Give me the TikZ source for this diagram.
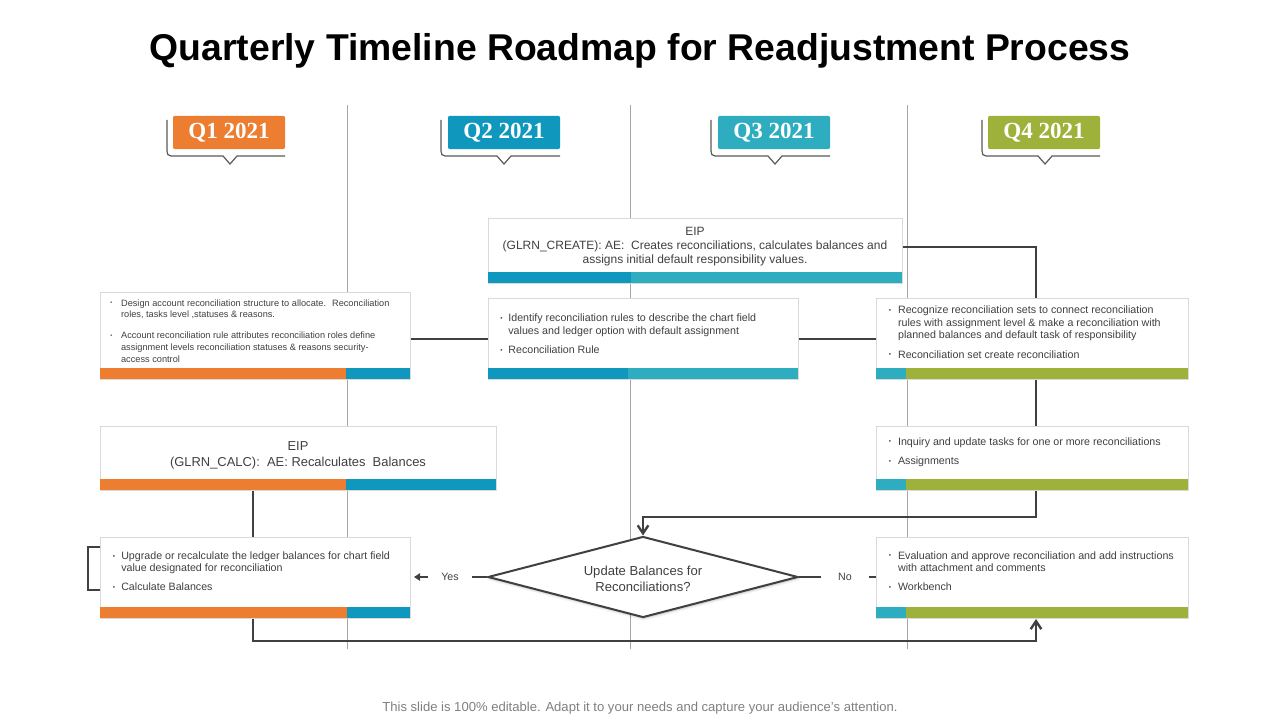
\documentclass[tikz,border=0pt]{standalone}
\usepackage{fontspec}
\setmainfont{Liberation Sans}
\newfontfamily\quarterfont{Liberation Serif}
\usetikzlibrary{shapes.geometric}
\usetikzlibrary{shadows.blur}
\usetikzlibrary{arrows.meta}
\usepackage{xcolor}
\newcommand{\bdot}{\raisebox{0.12em}{\scalebox{0.6}{\textbullet}}}

\begin{document}
\begin{tikzpicture}[x=0.75pt,y=0.75pt,yscale=-1,xscale=1,
  rail/.style={draw={rgb, 255:red, 166; green, 166; blue, 166 }, line width=0.75},
  link/.style={draw={rgb, 255:red, 64; green, 64; blue, 64 }, line width=1.8},
  card/.style={draw={rgb, 255:red, 217; green, 217; blue, 217 }, fill=white, line width=0.75, inner sep=0, anchor=north west},
  barorange/.style={fill={rgb, 255:red, 237; green, 125; blue, 49 }},
  barblue/.style={fill={rgb, 255:red, 15; green, 151; blue, 190 }},
  barteal/.style={fill={rgb, 255:red, 46; green, 173; blue, 193 }},
  bargreen/.style={fill={rgb, 255:red, 157; green, 177; blue, 59 }},
  qtab/.style={rounded corners=1.5, text=white, inner sep=0, minimum width=84pt, minimum height=25pt, font=\quarterfont\bfseries\fontsize{17.3}{17.3}\selectfont},
  qbrace/.style={draw={rgb, 255:red, 89; green, 89; blue, 89 }, line width=0.9},
  txt/.style={inner sep=0, text={rgb, 255:red, 64; green, 64; blue, 64 }},
  decision/.style={diamond, draw={rgb, 255:red, 64; green, 64; blue, 64 }, line width=1.5, fill=white, aspect=3.83, minimum width=232.5pt, minimum height=60.75pt, inner sep=0, blur shadow={shadow xshift=0.6pt, shadow yshift=-0.9pt, shadow blur radius=2pt, shadow opacity=30}},
  flowlbl/.style={txt, font=\fontsize{8}{9.6}\selectfont},
]
\useasboundingbox (0,0) rectangle (1280,720);

% Text Node
\node[anchor=base, inner sep=0, font=\bfseries\fontsize{28}{30}\selectfont] (titleTxt) at (640,61) {Quarterly Timeline Roadmap for Readjustment Process};

%Straight Lines (quarter rails)
\draw[rail] (347,105) -- (347,649);
\draw[rail] (630,105) -- (630,649);
\draw[rail] (907,105) -- (907,649);

%Shape: Quarter tabs
\draw[qbrace] (167,120) -- (167,151) .. controls (167,154) and (168,156) .. (171,156) -- (223,156) -- (230,164) -- (237,156) -- (285,156);
\node[qtab, fill={rgb, 255:red, 237; green, 125; blue, 49 }] (q1Tab) at (229,132.5) {Q1 2021};
\draw[qbrace] (441,120) -- (441,151) .. controls (441,154) and (442,156) .. (445,156) -- (497,156) -- (504,164) -- (511,156) -- (560,156);
\node[qtab, fill={rgb, 255:red, 15; green, 151; blue, 190 }] (q2Tab) at (504,132.5) {Q2 2021};
\draw[qbrace] (711,120) -- (711,151) .. controls (711,154) and (712,156) .. (715,156) -- (768,156) -- (775,164) -- (782,156) -- (830,156);
\node[qtab, fill={rgb, 255:red, 46; green, 173; blue, 193 }] (q3Tab) at (774,132.5) {Q3 2021};
\draw[qbrace] (982,120) -- (982,151) .. controls (982,154) and (983,156) .. (986,156) -- (1038,156) -- (1045,164) -- (1052,156) -- (1100,156);
\node[qtab, fill={rgb, 255:red, 157; green, 177; blue, 59 }] (q4Tab) at (1044,132.5) {Q4 2021};

%Shape: Cards
\node[card, minimum width=232.5pt, minimum height=65.25pt] (designBox) at (100,292) {};
\node[card, minimum width=297pt, minimum height=48pt] (calcBox) at (100,426) {};
\node[card, minimum width=310.5pt, minimum height=48.75pt] (createBox) at (488,218) {};
\node[card, minimum width=232.5pt, minimum height=60.75pt] (ruleBox) at (488,298) {};
\node[card, minimum width=234pt, minimum height=60.75pt] (setBox) at (876,298) {};
\node[card, minimum width=234pt, minimum height=48pt] (inquiryBox) at (876,426) {};
\node[card, minimum width=232.5pt, minimum height=60.75pt] (upgradeBox) at (100,537) {};
\node[card, minimum width=234pt, minimum height=60.75pt] (benchBox) at (876,537) {};

%Shape: Card bars
\fill[barorange] (100,368) rectangle (346,379);
\fill[barblue] (346,368) rectangle (410,379);
\fill[barorange] (100,479) rectangle (346,490);
\fill[barblue] (346,479) rectangle (496,490);
\fill[barblue] (488,272) rectangle (631,283);
\fill[barteal] (631,272) rectangle (902,283);
\fill[barblue] (488,368) rectangle (628,379);
\fill[barteal] (628,368) rectangle (798,379);
\fill[barteal] (876,368) rectangle (906,379);
\fill[bargreen] (906,368) rectangle (1188,379);
\fill[barteal] (876,479) rectangle (906,490);
\fill[bargreen] (906,479) rectangle (1188,490);
\fill[barorange] (100,607) rectangle (347,618);
\fill[barblue] (347,607) rectangle (410,618);
\fill[barteal] (876,607) rectangle (906,618);
\fill[bargreen] (906,607) rectangle (1188,618);

%Shape: Diamond
\node[decision] (decide) at (643,577) {};

%Straight Lines (connectors)
\coordinate (creJoin) at (1036,247);
\coordinate (feedTurn) at (1036,517);
\coordinate (calcDrop) at (253,641);
\draw[link] (designBox.east |- ruleBox.west) -- (ruleBox.west);
\draw[link] (ruleBox.east) -- (setBox.west);
\draw[link] (createBox.east |- creJoin) -- (creJoin) -- (creJoin |- setBox.north);
\draw[link] (creJoin |- setBox.south) -- (creJoin |- inquiryBox.north);
\draw[link, -{Straight Barb[length=6pt, width=8pt]}] (creJoin |- inquiryBox.south) -- (feedTurn) -| (decide.north);
\draw[link] (calcBox.south -| calcDrop) -- (upgradeBox.north -| calcDrop);
\draw[link, -{Straight Barb[length=6pt, width=8pt]}] (upgradeBox.south -| calcDrop) -- (calcDrop) -| (benchBox.south -| creJoin);
\draw[link] ([yshift=7.5pt]upgradeBox.north west) -- ++(-12,0) |- ([yshift=-21.75pt]upgradeBox.south west);

% Text Node
\node[flowlbl, inner xsep=10.1pt] (yesLbl) at (450,577) {Yes};
\node[flowlbl, inner xsep=12.75pt] (noLbl) at (845,577) {No};
\draw[link] (decide.west) -- (yesLbl.east);
\draw[link, line width=1.5, -{Triangle[length=4.5pt, width=5.5pt]}, shorten >=2.25pt] (yesLbl.west) -- (yesLbl.west -| upgradeBox.east);
\draw[link] (decide.east) -- (noLbl.west);
\draw[link] (noLbl.east) -- (noLbl.east -| benchBox.west);

% Text Node
\node[txt, anchor=base, font=\fontsize{9.8}{12.5}\selectfont] (decideTxt) at (643,575) {\begin{tabular}[t]{@{}c@{}}Update Balances for\\Reconciliations?\end{tabular}};
% Text Node
\node[txt, anchor=base, font=\fontsize{9}{10.5}\selectfont] (createTxt) at (695,235) {\begin{tabular}[t]{@{}c@{}}EIP\\(GLRN\_CREATE): AE:~ Creates reconciliations, calculates balances and\\assigns initial default responsibility values.\end{tabular}};
% Text Node
\node[txt, anchor=base, font=\fontsize{9.7}{12}\selectfont] (calcTxt) at (298,450.7) {\begin{tabular}[t]{@{}c@{}}EIP\\(GLRN\_CALC):~ AE: Recalculates~ Balances\end{tabular}};
% Text Node
\node[txt, anchor=base west, font=\fontsize{6.9}{8.85}\selectfont] (designTxt) at (110,306) {\begin{tabular}[t]{@{}l@{\hspace{6.7pt}}l@{}}\bdot & Design account reconciliation structure to allocate.~ Reconciliation\\ & roles, tasks level ,statuses \& reasons.\\[6.9pt]\bdot & Account reconciliation rule attributes reconciliation roles define\\ & assignment levels reconciliation statuses \& reasons security-\\ & access control\end{tabular}};
% Text Node
\node[txt, anchor=base west, font=\fontsize{8}{9.5}\selectfont] (ruleTxt) at (500,321.7) {\begin{tabular}[t]{@{}l@{\hspace{4.4pt}}l@{}}\bdot & Identify reconciliation rules to describe the chart field\\ & values and ledger option with default assignment\\[4.9pt]\bdot & Reconciliation Rule\end{tabular}};
% Text Node
\node[txt, anchor=base west, font=\fontsize{8}{9.6}\selectfont] (setTxt) at (888.5,313.3) {\begin{tabular}[t]{@{}l@{\hspace{5.3pt}}l@{}}\bdot & Recognize reconciliation sets to connect reconciliation\\ & rules with assignment level \& make a reconciliation with\\ & planned balances and default task of responsibility\\[4.9pt]\bdot & Reconciliation set create reconciliation\end{tabular}};
% Text Node
\node[txt, anchor=base west, font=\fontsize{8}{9.6}\selectfont] (inquiryTxt) at (888.5,445) {\begin{tabular}[t]{@{}l@{\hspace{5.3pt}}l@{}}\bdot & Inquiry and update tasks for one or more reconciliations\\[4.9pt]\bdot & Assignments\end{tabular}};
% Text Node
\node[txt, anchor=base west, font=\fontsize{8}{9.4}\selectfont] (upgradeTxt) at (112.5,559.3) {\begin{tabular}[t]{@{}l@{\hspace{4.7pt}}l@{}}\bdot & Upgrade or recalculate the ledger balances for chart field\\ & value designated for reconciliation\\[4.9pt]\bdot & Calculate Balances\end{tabular}};
% Text Node
\node[txt, anchor=base west, font=\fontsize{8}{9.4}\selectfont] (benchTxt) at (888.5,559) {\begin{tabular}[t]{@{}l@{\hspace{5.3pt}}l@{}}\bdot & Evaluation and approve reconciliation and add instructions\\ & with attachment and comments\\[4.9pt]\bdot & Workbench\end{tabular}};

% Text Node
\node[inner sep=0, text={rgb, 255:red, 127; green, 127; blue, 127 }, font=\fontsize{9.8}{11}\selectfont] (footNote) at (640,708) {This slide is 100\% editable. Adapt it to your needs and capture your audience's attention.};

\end{tikzpicture}
\end{document}
